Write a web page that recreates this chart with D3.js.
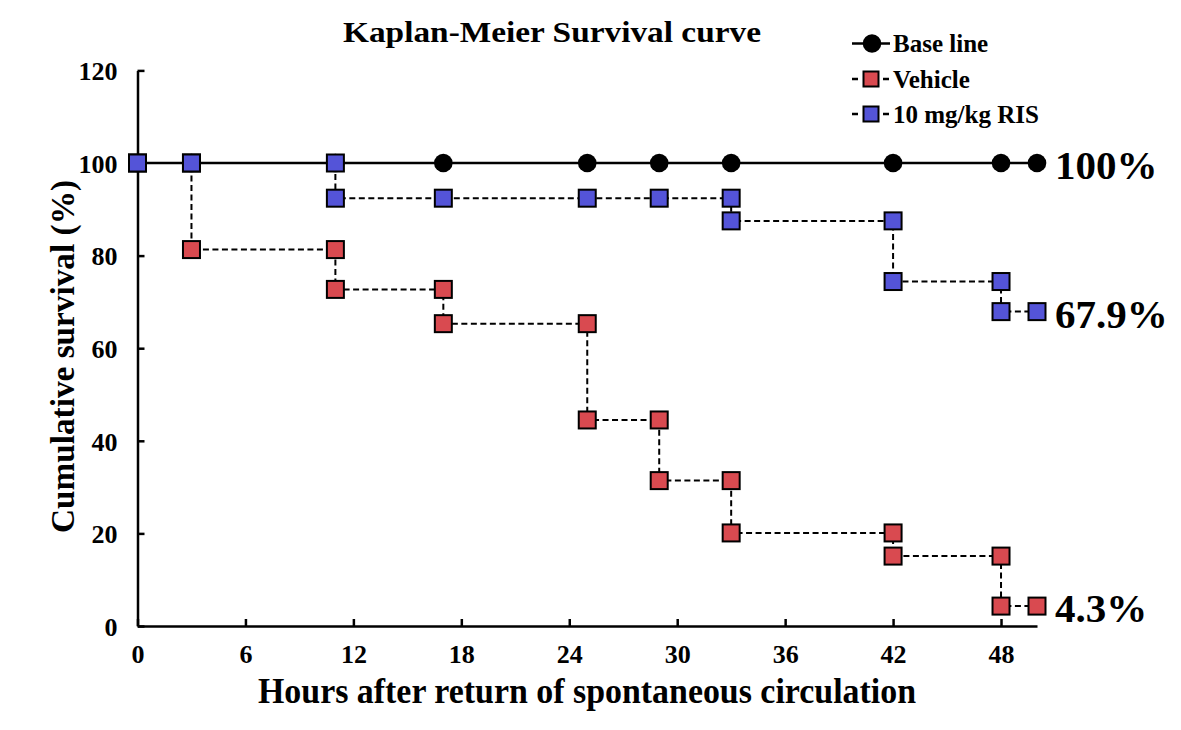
<!DOCTYPE html>
<html><head><meta charset="utf-8">
<script src="https://cdn.jsdelivr.net/npm/d3@7"></script>
<style>
html,body{margin:0;padding:0;background:#fff;}
text{font-family:"Liberation Serif","Times New Roman",serif;font-weight:bold;fill:#000;}
</style></head>
<body>
<svg id="chart" width="1181" height="730"></svg>
<script>
// Data
const xTicks = [0, 6, 12, 18, 24, 30, 36, 42, 48];
const yTicks = [0, 20, 40, 60, 80, 100, 120];
const baseHours = [0, 3, 11, 17, 25, 29, 33, 42, 48, 50];
const baseSurv  = [100, 100, 100, 100, 100, 100, 100, 100, 100, 100];
const vehHours = [0, 3, 3, 11, 11, 17, 17, 25, 25, 29, 29, 33, 33, 42, 42, 48, 48, 50];
const vehSurv  = [100, 100, 81.3, 81.3, 72.7, 72.7, 65.3, 65.3, 44.5, 44.5, 31.4, 31.4, 20.1, 20.1, 15.1, 15.1, 4.3, 4.3];
const risHours = [0, 3, 11, 11, 17, 25, 29, 33, 33, 42, 42, 48, 48, 50];
const risSurv  = [100, 100, 100, 92.4, 92.4, 92.4, 92.4, 92.4, 87.5, 87.5, 74.4, 74.4, 67.9, 67.9];
const endLabels = [
  {text: "100%", value: 100},
  {text: "67.9%", value: 67.9},
  {text: "4.3%", value: 4.3}
];
const seriesNames = ["Base line", "Vehicle", "10 mg/kg RIS"];

const svg = d3.select("#chart");
const x = d3.scaleLinear().domain([0, 50]).range([137.5, 1037]);
const y = d3.scaleLinear().domain([0, 120]).range([626, 70.4]);

// Axes
const xAxis = d3.axisBottom(x).tickValues(xTicks).tickSizeInner(-7).tickSizeOuter(0).tickPadding(19);
const yAxis = d3.axisLeft(y).tickValues(yTicks).tickSizeInner(-7).tickSizeOuter(0).tickPadding(20);
const gx = svg.append("g").attr("transform", `translate(0,${y(0)})`).call(xAxis);
const gy = svg.append("g").attr("transform", `translate(${x(0)},0)`).call(yAxis);
[gx, gy].forEach(g => {
  g.attr("font-size", 26).attr("font-family", '"Liberation Serif",serif').attr("font-weight", "bold");
  g.select(".domain").attr("stroke", "#000").attr("stroke-width", 2.5);
  g.selectAll(".tick line").attr("stroke", "#000").attr("stroke-width", 2.5);
  g.selectAll(".tick text").style("font-size", "26px").attr("fill", "#000");
});
gx.selectAll(".tick text").attr("dy", "0.71em");
gy.selectAll(".tick text").attr("dy", "0.36em");

const pts = (hs, vs) => hs.map((h, i) => [h, vs[i]]);
const line = d3.line().x(d => x(d[0])).y(d => y(d[1]));

const base = pts(baseHours, baseSurv);
const veh = pts(vehHours, vehSurv);
const ris = pts(risHours, risSurv);

// Lines
svg.append("path").datum(veh).attr("d", line).attr("fill", "none").attr("stroke", "#000").attr("stroke-width", 2).attr("stroke-dasharray", "6,3.5");
svg.append("path").datum(ris).attr("d", line).attr("fill", "none").attr("stroke", "#000").attr("stroke-width", 2).attr("stroke-dasharray", "6,3.5");
svg.append("path").datum(base).attr("d", line).attr("fill", "none").attr("stroke", "#000").attr("stroke-width", 2.5);

// Markers
const sq = 17;
svg.append("g").selectAll("circle").data(base).join("circle")
  .attr("cx", d => x(d[0])).attr("cy", d => y(d[1])).attr("r", 9.3).attr("fill", "#000");
svg.append("g").selectAll("rect").data(veh).join("rect")
  .attr("x", d => x(d[0]) - sq/2).attr("y", d => y(d[1]) - sq/2).attr("width", sq).attr("height", sq)
  .attr("fill", "#d94a50").attr("stroke", "#000").attr("stroke-width", 2);
svg.append("g").selectAll("rect").data(ris).join("rect")
  .attr("x", d => x(d[0]) - sq/2).attr("y", d => y(d[1]) - sq/2).attr("width", sq).attr("height", sq)
  .attr("fill", "#5454d8").attr("stroke", "#000").attr("stroke-width", 2);

// End labels
svg.append("g").selectAll("text").data(endLabels).join("text")
  .attr("x", x(50) + 18).attr("y", d => y(d.value)).attr("dy", "0.4em")
  .style("font-size", "41px").text(d => d.text);

// Title
svg.append("text").attr("x", 343).attr("y", 42).attr("textLength", 418).attr("lengthAdjust", "spacingAndGlyphs")
  .style("font-size", "30px").text("Kaplan-Meier Survival curve");

// Axis titles
svg.append("text").attr("x", 258).attr("y", 703).attr("textLength", 658).attr("lengthAdjust", "spacingAndGlyphs")
  .style("font-size", "35px").text("Hours after return of spontaneous circulation");
svg.append("text").attr("transform", `translate(74,533) rotate(-90)`).attr("textLength", 353).attr("lengthAdjust", "spacingAndGlyphs")
  .style("font-size", "34px").text("Cumulative survival (%)");

// Legend
const lg = svg.append("g");
const rows = [43.5, 79, 114];
lg.append("line").attr("x1", 852).attr("x2", 890).attr("y1", rows[0]).attr("y2", rows[0]).attr("stroke", "#000").attr("stroke-width", 2.5);
lg.append("circle").attr("cx", 872).attr("cy", rows[0]).attr("r", 9.3).attr("fill", "#000");
[[1, "#d94a50"], [2, "#5454d8"]].forEach(([i, c]) => {
  lg.append("line").attr("x1", 852).attr("x2", 890).attr("y1", rows[i]).attr("y2", rows[i]).attr("stroke", "#000").attr("stroke-width", 2.5).attr("stroke-dasharray", "6,25");
  lg.append("rect").attr("x", 863.5).attr("y", rows[i] - 7.5).attr("width", 15).attr("height", 15).attr("fill", c).attr("stroke", "#000").attr("stroke-width", 2);
});
lg.selectAll("text").data(seriesNames).join("text")
  .attr("x", 893).attr("y", (d, i) => rows[i]).attr("dy", "0.35em").style("font-size", "25px").text(d => d);
</script>
</body></html>
